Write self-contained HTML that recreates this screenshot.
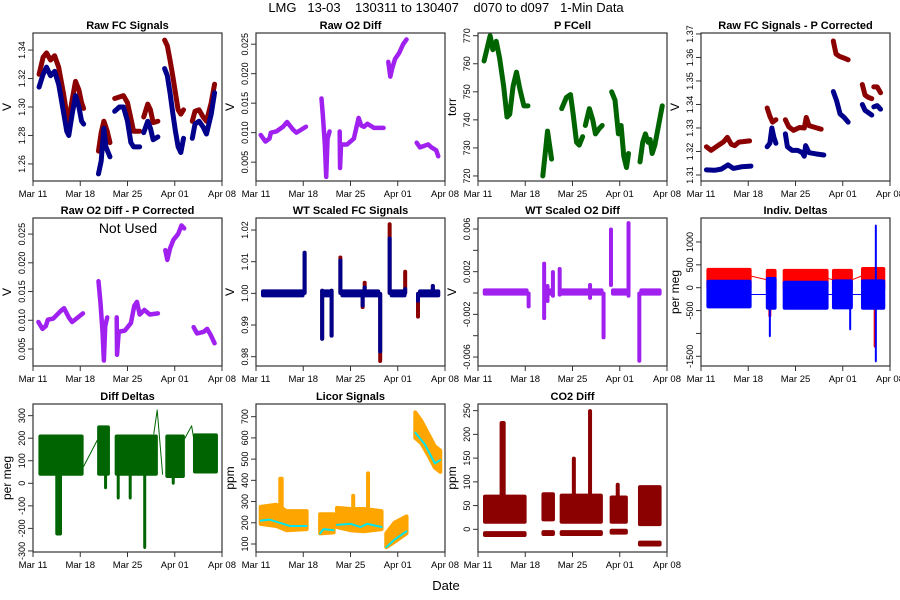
<!DOCTYPE html>
<html><head><meta charset="utf-8">
<style>
html,body{margin:0;padding:0;background:#fff;}
svg{display:block;font-family:"Liberation Sans",Arial,sans-serif;}
</style></head>
<body>
<svg id="chart" width="900" height="600" viewBox="0 0 900 600" xmlns="http://www.w3.org/2000/svg">
<rect width="900" height="600" fill="#fff"/>
<text x="446" y="12" font-size="13" text-anchor="middle" xml:space="preserve">LMG   13-03    130311 to 130407    d070 to d097   1-Min Data</text>
<text x="446" y="590" font-size="13" text-anchor="middle">Date</text>
</svg>
<script>
// ---------- shared x-axis ----------
const xTickDays = [0, 7, 14, 21, 28];
const xTickLabels = ["Mar 11", "Mar 18", "Mar 25", "Apr 01", "Apr 08"];

// ---------- Panel 1: Raw FC Signals ----------
const fcRedSegs = [
 [[0.9,1.323],[1.5,1.335],[2,1.338],[2.6,1.333],[3.2,1.336],[3.8,1.328],[4.5,1.31],[5,1.295],[5.3,1.29],[5.8,1.305],[6.3,1.318],[6.8,1.312],[7.2,1.303],[7.5,1.299]],
 [[9.7,1.269],[10.1,1.282],[10.5,1.29],[11,1.283],[11.4,1.275]],
 [[12.1,1.306],[12.8,1.307],[13.4,1.308],[14,1.303],[14.5,1.292],[14.9,1.283],[15.8,1.283]],
 [[16.4,1.293],[17,1.302],[17.4,1.298],[17.8,1.289],[18.5,1.29]],
 [[19.5,1.347],[19.9,1.343],[20.3,1.333],[20.7,1.322],[21.1,1.31],[21.5,1.298],[21.9,1.295],[22.3,1.298]],
 [[23.6,1.29],[24,1.297],[24.6,1.298],[25.2,1.293],[25.7,1.29],[26.4,1.303],[26.9,1.316]]
];
const fcBlueSegs = [
 [[0.9,1.314],[1.5,1.323],[2,1.328],[2.6,1.322],[3.2,1.325],[3.8,1.316],[4.5,1.297],[5,1.283],[5.3,1.28],[5.8,1.295],[6.3,1.308],[6.8,1.3],[7.2,1.29],[7.5,1.288]],
 [[9.7,1.253],[10.1,1.262],[10.5,1.285],[10.8,1.272],[11.4,1.265]],
 [[12.1,1.297],[12.8,1.3],[13.4,1.3],[14,1.29],[14.5,1.275],[14.9,1.272],[15.8,1.272]],
 [[16.4,1.282],[17,1.29],[17.4,1.285],[17.8,1.277],[18.5,1.279]],
 [[19.5,1.327],[19.9,1.322],[20.3,1.31],[20.7,1.296],[21.1,1.283],[21.5,1.272],[21.9,1.268],[22.3,1.278]],
 [[23.6,1.278],[24,1.288],[24.6,1.29],[25.2,1.286],[25.7,1.281],[26.4,1.295],[26.9,1.31]]
];
const fcTicks = [1.26,1.28,1.30,1.32,1.34];
const fcTickLabels = ["1.26","1.28","1.30","1.32","1.34"];

// ---------- Panel 2: Raw O2 Diff ----------
const o2Segs = [
 [[0.7,0.0096],[1.4,0.0085],[2,0.009],[2.2,0.01],[3,0.0102],[4,0.011],[4.6,0.0118],[5.5,0.0105],[6,0.01],[7.4,0.011]],
 [[9.7,0.0158],[9.9,0.013],[10.2,0.008],[10.4,0.0025],[10.6,0.009],[10.9,0.0102]],
 [[12.4,0.0102],[12.45,0.004],[12.6,0.008],[13.5,0.008],[14.5,0.009],[15.2,0.0125],[15.6,0.0112],[16,0.011],[16.5,0.0115],[17.5,0.0108],[18.9,0.0108]],
 [[19.6,0.022],[19.9,0.0195],[20.2,0.021],[20.6,0.0225],[21.2,0.0235],[21.8,0.025],[22.3,0.0258]],
 [[23.8,0.0083],[24.3,0.0075],[25.5,0.008],[26,0.0075],[26.7,0.007],[27,0.006]]
];
const o2Ticks = [0.005,0.010,0.015,0.020,0.025];
const o2TickLabels = ["0.005","0.010","0.015","0.020","0.025"];

// ---------- Panel 3: P FCell ----------
const pSegs = [
 [[0.9,761],[1.4,766],[1.8,770],[2.2,765],[2.7,768],[3.2,762],[3.8,752],[4.3,741],[4.7,742],[5.2,752],[5.7,757],[6.2,751],[6.8,745],[7.4,745]],
 [[9.6,720],[10,729],[10.3,736],[10.6,731],[10.9,726]],
 [[12.4,744],[13.1,748],[13.7,749],[14.1,742],[14.6,732],[15,731],[15.5,734]],
 [[15.9,738],[16.5,744],[17,740],[17.4,735],[18,737],[18.4,738]],
 [[19.8,750],[20.3,747],[20.8,735],[21.2,738],[21.6,727],[22,723],[22.3,728]],
 [[24,725],[24.4,732],[24.8,735],[25.2,732],[25.5,733],[25.8,728],[26.2,731],[27.3,745]]
];
const pTicks = [720,730,740,750,760,770];
const pTickLabels = ["720","730","740","750","760","770"];

// ---------- Panel 4: Raw FC Signals - P Corrected ----------
const pcRedSegs = [
 [[0.8,1.322],[1.5,1.3205],[2.5,1.3225],[3.3,1.324],[3.9,1.326],[4.5,1.323],[5,1.3225],[5.6,1.324],[7.2,1.3245]],
 [[9.8,1.3385],[10.2,1.335],[10.6,1.3325],[11.1,1.3335]],
 [[12.5,1.3335],[13,1.3305],[13.7,1.329],[14.6,1.3302],[15.3,1.33],[15.6,1.3345],[16,1.331],[16.8,1.3303],[17.8,1.3295]],
 [[19.6,1.367],[20,1.3615],[20.5,1.3605],[21.4,1.3595],[21.8,1.359]],
 [[23.9,1.3485],[24.3,1.344],[24.8,1.343],[25.3,1.3425]],
 [[25.6,1.3475],[26.1,1.3475],[26.6,1.345]]
];
const pcBlueSegs = [
 [[0.8,1.3122],[2,1.312],[3,1.3125],[4,1.3143],[4.8,1.3128],[6,1.3135],[7.4,1.3138]],
 [[9.8,1.322],[10.2,1.3235],[10.5,1.33],[10.8,1.326],[11.1,1.3235]],
 [[12.5,1.3275],[12.8,1.322],[13.5,1.3205],[14.3,1.3205],[15,1.3195],[15.3,1.318],[15.5,1.3225],[16,1.3195],[17,1.319],[18.2,1.3185]],
 [[19.6,1.3455],[20.1,1.3415],[20.6,1.336],[21.2,1.3345],[21.8,1.3325]],
 [[23.9,1.34],[24.3,1.3375],[24.8,1.3365],[25.3,1.3355]],
 [[25.6,1.339],[26.1,1.3395],[26.6,1.338]]
];
const pcTicks = [1.31,1.32,1.33,1.34,1.35,1.36,1.37];
const pcTickLabels = ["1.31","1.32","1.33","1.34","1.35","1.36","1.37"];

// ---------- Row 2 Panel 1: Raw O2 Diff - P Corrected ----------
const o2pcSegs = [
 [[0.8,0.0097],[1.4,0.0085],[1.9,0.009],[2.2,0.0101],[3,0.0103],[4,0.0115],[4.6,0.0121],[5.3,0.0105],[5.8,0.0097],[7.4,0.0112]],
 [[9.7,0.0168],[10,0.013],[10.3,0.008],[10.5,0.003],[10.7,0.009],[11,0.0105]],
 [[12.4,0.0105],[12.45,0.004],[12.7,0.008],[13.6,0.0082],[14.5,0.0095],[15,0.0125],[15.4,0.0132],[15.8,0.011],[16.5,0.0118],[17.3,0.011],[18.5,0.0112]],
 [[19.6,0.0222],[19.9,0.0205],[20.3,0.0225],[20.8,0.024],[21.5,0.025],[22,0.0265],[22.4,0.026]],
 [[23.8,0.0088],[24.3,0.0077],[25.3,0.008],[25.8,0.0085],[26.3,0.0075],[26.9,0.006]]
];

// ---------- Row 2 Panel 2: WT Scaled FC Signals ----------
const wtFlatSegs = [[0.74,7.2],[9.8,11.2],[12.5,18.4],[19.8,22.3],[24,27.3]];
const wtFlatLevel = 1.0;
// [day, redMin, redMax, blueMin, blueMax]
const wtSpikes = [
 [7.2,1.0,1.013,1.0,1.013],[9.8,0.9855,1.001,0.9855,1.001],[11.2,0.9865,1.001,0.9865,1.001],
 [12.5,1.0,1.0115,1.0,1.0105],[15.8,0.9955,1.0,0.996,1.0],[16.1,1.0,1.0035,1.0,1.002],
 [18.4,0.9785,1.0,0.9815,1.0],[19.8,1.0,1.022,1.0,1.0175],[22.1,1.0,1.007,1.0,1.0015],
 [24,0.9925,1.0,0.9975,1.0],[26.2,1.0,1.0025,1.0,1.0025]
];
const wtTicks = [0.98,0.99,1.00,1.01,1.02];
const wtTickLabels = ["0.98","0.99","1.00","1.01","1.02"];

// ---------- Row 2 Panel 3: WT Scaled O2 Diff ----------
const wtO2Flat = [[0.7,7.5],[9.8,11.3],[12.1,18.6],[19.7,22.5],[23.9,27.2]];
const wtO2Level = 0.0001;
// [day, min, max]
const wtO2Spikes = [
 [7.5,-0.0013,0],[9.8,-0.0024,0.0028],[10.3,-0.0008,0.0007],[11.1,-0.0003,0.002],
 [12.1,-0.0002,0.0023],[16.6,-0.0005,0.0008],[18.6,-0.0042,0],[19.7,0.0007,0.006],
 [22.3,-0.0003,0.0066],[23.9,-0.0064,0]
];
const wtO2Ticks = [-0.006,-0.004,-0.002,0,0.002,0.004,0.006];
const wtO2TickLabels = ["-0.006","","-0.002","","0.002","","0.006"];

// ---------- Row 2 Panel 4: Indiv. Deltas ----------
// [start, end, redLo, redHi, blueLo, blueHi]
const deltaBands = [
 [0.8,7.5,-20,400,-420,140],[9.6,11.2,-60,380,-450,200],[12.1,18.9,-20,380,-450,120],
 [19.4,22.5,-30,380,-440,150],[23.7,27.3,-30,420,-450,150]
];
const deltaRedLines = [[[7.5,250],[9.6,180]],[[18.9,200],[19.4,180]],[[22.5,180],[23.7,250]]];
const deltaBlueLines = [[[7.5,-150],[9.6,-150]],[[18.9,-150],[19.4,-150]],[[22.5,-150],[23.7,-150]]];
// [day, min, max]
const deltaRedSpikes = [[10.2,-620,0],[25.8,-1280,0]];
const deltaBlueSpikes = [[10.2,-1050,0],[22.1,-900,0],[25.9,-1600,1350]];
const deltaTicks = [-1500,-1000,-500,0,500,1000];
const deltaTickLabels = ["-1500","","-500","0","500","1000"];

// ---------- Row 3 Panel 1: Diff Deltas ----------
const diffBands = [[0.8,7.5,40,210],[9.5,11.4,40,250],[12.1,18.5,40,210],[19.6,22.5,30,210],[23.7,27.4,50,215]];
// [start, end, min, max]
const diffSpikes = [[3.3,4.3,-225,40],[12.55,12.7,-65,40],[14.2,14.6,-65,40],[16.45,16.65,-285,40],[20.7,20.85,0,40],[10.7,10.8,-20,40]];
const diffLines = [[[7.5,75],[9.5,190]],[[17.9,220],[18.4,325],[19.2,40]],[[22.5,200],[23.5,255],[23.8,200]]];
const diffTicks = [-300,-200,-100,0,100,200,300];
const diffTickLabels = ["-300","-200","-100","0","100","200","300"];

// ---------- Row 3 Panel 2: Licor Signals ----------
const licorOrangeSegs = [
 [[0.7,195,275],[3,185,285],[4.5,165,255],[7.5,170,255]],
 [[9.5,150,240],[11.5,155,240]],
 [[12,180,270],[14,165,265],[16,160,265],[18.6,170,255]],
 [[19.3,85,150],[20.5,110,200],[22.3,150,230]],
 [[23.6,600,720],[24.5,575,680],[25.5,520,620],[26.5,460,560],[27.3,440,540]]
];
const licorSpikes = [[3.3,4.1,250,410],[14.2,14.6,250,330],[16.4,16.8,250,435]];
const licorCyanSegs = [
 [[0.7,210],[2,215],[4,195],[5,185],[7.5,185]],
 [[9.5,150],[10,170],[11.5,165]],
 [[12,190],[14,195],[15.5,180],[16.5,195],[18.6,180]],
 [[19.3,85],[20.5,120],[22.3,160]],
 [[23.6,625],[25,570],[26.5,480],[27.3,495]]
];
const licorTicks = [100,200,300,400,500,600,700];
const licorTickLabels = ["100","200","300","400","500","600","700"];

// ---------- Row 3 Panel 3: CO2 Diff ----------
const co2Bands = [[0.74,7.2,15,70],[9.4,11.4,20,75],[12.1,18.5,15,72],[19.5,22.2,15,68],[23.7,27.2,10,90]];
const co2Low = [[0.74,7.2,-10],[9.4,11.4,-8],[12.1,18.5,-8],[19.5,22.2,-5],[23.7,27.2,-30]];
const co2Spikes = [[3.2,4.1,225],[14.0,14.4,150],[16.4,16.8,250],[20.5,20.9,95]];
const co2Ticks = [0,50,100,150,200,250];
const co2TickLabels = ["0","50","100","150","200","250"];

// ---------- rendering ----------
const NS = "http://www.w3.org/2000/svg";
const svg = document.getElementById("chart");
function mk(tag, attrs, parent) {
  const e = document.createElementNS(NS, tag);
  for (const k in attrs) e.setAttribute(k, attrs[k]);
  (parent || svg).appendChild(e);
  return e;
}
const COLS = [33, 256, 478, 701], W = 189;
const ROWS = [33, 218, 404], H = 148;

function makePanel(name, col, row, title, yMin, yMax, yTicks, yLabels, yTitle) {
  const x0 = COLS[col], y0 = ROWS[row];
  const g = mk("g", {});
  
  
  const sx = d => x0 + d / 28 * W;
  const sy = v => y0 + H - (v - yMin) / (yMax - yMin) * H;
  const plot = mk("g", {}, g);
  
  
  const t = mk("text", {x: x0 + W / 2, y: y0 - 4, "font-size": 11, "font-weight": "bold", "text-anchor": "middle"}, g);
  
  
  t.textContent = title;
  const box = mk("rect", {x: x0, y: y0, width: W, height: H, fill: "none", stroke: "#333", "stroke-width": 1.2}, g);
  
  
  xTickDays.forEach((d, i) => {
    mk("line", {x1: sx(d), x2: sx(d), y1: y0 + H, y2: y0 + H + 5, stroke: "#333"}, g);
    const tl = mk("text", {x: sx(d), y: y0 + H + 16, "font-size": 9.5, "text-anchor": "middle"}, g);
    
    
    tl.textContent = xTickLabels[i];
  });
  yTicks.forEach((v, i) => {
    const y = sy(v);
    mk("line", {x1: x0, x2: x0 - 5, y1: y, y2: y, stroke: "#333"}, g);
    if (yLabels[i]) {
      const tl = mk("text", {x: 0, y: 0, "font-size": 9, "text-anchor": "middle", transform: `translate(${x0 - 8},${y}) rotate(-90)`}, g);
      
      
      tl.textContent = yLabels[i];
    }
  });
  const yt = mk("text", {x: 0, y: 0, "font-size": 12, "text-anchor": "middle", transform: `translate(${x0 - 22},${y0 + H / 2}) rotate(-90)`}, g);
  
  
  yt.textContent = yTitle;
  return {sx, sy, g: plot};
}
function polyline(p, pts, color, w, name) {
  const e = mk("polyline", {points: pts.map(q => p.sx(q[0]) + "," + p.sy(q[1])).join(" "), fill: "none", stroke: color, "stroke-width": w, "stroke-linecap": "round", "stroke-linejoin": "round"}, p.g);
  
  
  return e;
}
function rectV(p, d0, d1, lo, hi, color, name, minW) {
  let xa = p.sx(d0), xb = p.sx(d1);
  if (xb - xa < minW) { const c = (xa + xb) / 2; xa = c - minW / 2; xb = c + minW / 2; }
  const ya = p.sy(hi), yb = p.sy(lo);
  const e = mk("rect", {x: xa, y: ya - 1.5, width: xb - xa, height: Math.max(yb - ya, 0) + 3, fill: color, rx: 2}, p.g);
  
  
  return e;
}

let p = makePanel("raw-fc-signals", 0, 0, "Raw FC Signals", 1.248, 1.352, fcTicks, fcTickLabels, "V");
fcRedSegs.forEach(s => polyline(p, s, "#8B0000", 5, "fc-red-series"));
fcBlueSegs.forEach(s => polyline(p, s, "#00008B", 5, "fc-blue-series"));

p = makePanel("raw-o2-diff", 1, 0, "Raw O2 Diff", 0.0018, 0.0269, o2Ticks, o2TickLabels, "V");
o2Segs.forEach(s => polyline(p, s, "#A020F0", 4.5, "o2-diff-series"));

p = makePanel("p-fcell", 2, 0, "P FCell", 718.2, 770.96, pTicks, pTickLabels, "torr");
pSegs.forEach(s => polyline(p, s, "#006400", 5, "pressure-series"));

p = makePanel("raw-fc-p-corrected", 3, 0, "Raw FC Signals - P Corrected", 1.30745, 1.3704, pcTicks, pcTickLabels, "V");
pcRedSegs.forEach(s => polyline(p, s, "#8B0000", 5, "pc-red-series"));
pcBlueSegs.forEach(s => polyline(p, s, "#00008B", 5, "pc-blue-series"));

p = makePanel("raw-o2-diff-p-corrected", 0, 1, "Raw O2 Diff - P Corrected", 0.00204, 0.0278, o2Ticks, o2TickLabels, "V");
o2pcSegs.forEach(s => polyline(p, s, "#A020F0", 4.5, "o2-pc-series"));
const nu = mk("text", {x: 128, y: 233, "font-size": 14, "text-anchor": "middle"}, p.g);


nu.textContent = "Not Used";

p = makePanel("wt-scaled-fc", 1, 1, "WT Scaled FC Signals", 0.97706, 1.0238, wtTicks, wtTickLabels, "V");
wtSpikes.forEach(s => rectV(p, s[0], s[0], s[1], s[2], "#8B0000", "wt-red-spike", 4));
wtFlatSegs.forEach(s => rectV(p, s[0], s[1], wtFlatLevel - 0.0008, wtFlatLevel + 0.0008, "#00008B", "wt-blue-series", 3));
wtSpikes.forEach(s => rectV(p, s[0], s[0], s[3], s[4], "#00008B", "wt-blue-spike", 4));

p = makePanel("wt-scaled-o2-diff", 2, 1, "WT Scaled O2 Diff", -0.00684, 0.00703, wtO2Ticks, wtO2TickLabels, "V");
wtO2Flat.forEach(s => rectV(p, s[0], s[1], wtO2Level - 0.0002, wtO2Level + 0.0002, "#A020F0", "wt-o2-series", 3));
wtO2Spikes.forEach(s => rectV(p, s[0], s[0], s[1], s[2], "#A020F0", "wt-o2-spike", 4));

p = makePanel("indiv-deltas", 3, 1, "Indiv. Deltas", -1712, 1524, deltaTicks, deltaTickLabels, "per meg");
deltaRedLines.forEach(s => polyline(p, s, "#FF0000", 1, "delta-red-line"));
deltaBands.forEach(s => rectV(p, s[0], s[1], s[2], s[3], "#FF0000", "delta-red-band", 3));
deltaRedSpikes.forEach(s => rectV(p, s[0], s[0], s[1], s[2], "#FF0000", "delta-red-spike", 3));
deltaBlueLines.forEach(s => polyline(p, s, "#0000FF", 1, "delta-blue-line"));
deltaBands.forEach(s => rectV(p, s[0], s[1], s[4], s[5], "#0000FF", "delta-blue-band", 3));
deltaBlueSpikes.forEach(s => rectV(p, s[0], s[0], s[1], s[2], "#0000FF", "delta-blue-spike", 2));

p = makePanel("diff-deltas", 0, 2, "Diff Deltas", -304.7, 351.7, diffTicks, diffTickLabels, "per meg");
diffLines.forEach(s => polyline(p, s, "#006400", 1, "diff-line"));
diffBands.forEach(s => rectV(p, s[0], s[1], s[2], s[3], "#006400", "diff-band", 3));
diffSpikes.forEach(s => rectV(p, s[0], s[1], s[2], s[3], "#006400", "diff-spike", 3));

p = makePanel("licor-signals", 1, 2, "Licor Signals", 62.3, 759.7, licorTicks, licorTickLabels, "ppm");
licorOrangeSegs.forEach(s => {
  const pts = s.map(q => p.sx(q[0]) + "," + p.sy(q[2])).concat(s.slice().reverse().map(q => p.sx(q[0]) + "," + p.sy(q[1])));
  const e = mk("polygon", {points: pts.join(" "), fill: "#FFA500", stroke: "#FFA500", "stroke-width": 4, "stroke-linejoin": "round"}, p.g);
  
  
});
licorSpikes.forEach(s => rectV(p, s[0], s[1], s[2], s[3], "#FFA500", "licor-spike", 4));
licorCyanSegs.forEach(s => polyline(p, s, "#00E5EE", 2, "licor-cyan-series"));

p = makePanel("co2-diff", 2, 2, "CO2 Diff", -47.8, 264, co2Ticks, co2TickLabels, "ppm");
co2Bands.forEach(s => rectV(p, s[0], s[1], s[2], s[3], "#8B0000", "co2-band", 3));
co2Low.forEach(s => rectV(p, s[0], s[1], s[2] - 3, s[2] + 3, "#8B0000", "co2-low-band", 3));
co2Spikes.forEach(s => rectV(p, s[0], s[1], 60, s[2], "#8B0000", "co2-spike", 4));
</script>
</body></html>
